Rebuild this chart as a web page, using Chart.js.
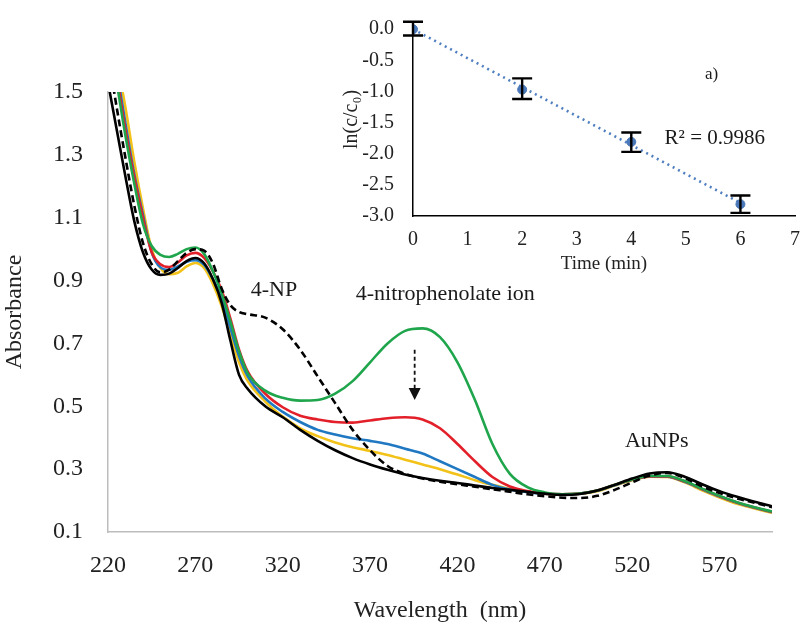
<!DOCTYPE html>
<html>
<head>
<meta charset="utf-8">
<script src="https://cdn.jsdelivr.net/npm/chart.js@4.4.1/dist/chart.umd.min.js"></script>
<style>
  html, body { margin: 0; padding: 0; background: #fff; }
  #wrap { position: relative; width: 806px; height: 630px; }
  #main { position: absolute; left: 0; top: 0; }
  #inset { position: absolute; left: 340px; top: 0; }
</style>
</head>
<body>
<div id="wrap">
  <canvas id="main" width="806" height="630"></canvas>
  <canvas id="inset" width="466" height="280"></canvas>
</div>
<script>
// --- Main spectra data ---
const wavelengths = [220, 225, 230, 235, 240, 245, 250, 255, 260, 265, 270, 275, 280, 285, 290, 295, 300,
  310, 320, 330, 340, 350, 360, 370, 380, 390, 400, 410, 420, 430, 440, 450, 460, 470, 480, 490, 500,
  510, 520, 530, 540, 550, 560, 570, 580, 590, 600];

const blackSolid = [1.53, 1.38, 1.23, 1.09, 0.99, 0.935, 0.918, 0.922, 0.94, 0.962, 0.972, 0.955, 0.905, 0.83, 0.71, 0.60, 0.555,
  0.50, 0.465, 0.425, 0.39, 0.36, 0.335, 0.315, 0.298, 0.283, 0.272, 0.263, 0.256, 0.248, 0.240, 0.234, 0.228, 0.222, 0.218, 0.221, 0.232,
  0.250, 0.270, 0.286, 0.290, 0.276, 0.252, 0.230, 0.212, 0.196, 0.182];

const np4Dashed = [1.62, 1.45, 1.29, 1.14, 1.02, 0.952, 0.926, 0.935, 0.962, 0.988, 1.0, 0.995, 0.955, 0.875, 0.822, 0.80, 0.793,
  0.782, 0.745, 0.68, 0.595, 0.51, 0.425, 0.36, 0.31, 0.285, 0.27, 0.26, 0.252, 0.244, 0.236, 0.228, 0.220, 0.214, 0.209, 0.208, 0.215,
  0.234, 0.258, 0.280, 0.288, 0.272, 0.245, 0.224, 0.207, 0.193, 0.179];

const green = [1.70, 1.53, 1.36, 1.21, 1.08, 1.01, 0.982, 0.975, 0.985, 1.0, 1.005, 0.985, 0.93, 0.86, 0.77, 0.675, 0.605,
  0.55, 0.527, 0.518, 0.52, 0.54, 0.58, 0.64, 0.70, 0.74, 0.748, 0.72, 0.64, 0.52, 0.38, 0.285, 0.243, 0.226, 0.220, 0.222, 0.232,
  0.250, 0.267, 0.278, 0.278, 0.262, 0.238, 0.215, 0.195, 0.179, 0.165];

const red = [1.72, 1.55, 1.38, 1.23, 1.10, 0.99, 0.952, 0.943, 0.958, 0.98, 0.988, 0.972, 0.93, 0.87, 0.78, 0.68, 0.61,
  0.54, 0.497, 0.47, 0.458, 0.45, 0.448, 0.455, 0.462, 0.465, 0.458, 0.43, 0.38, 0.325, 0.275, 0.245, 0.230, 0.222, 0.220, 0.222, 0.232,
  0.250, 0.266, 0.277, 0.277, 0.261, 0.237, 0.214, 0.194, 0.178, 0.164];

const blue = [1.74, 1.57, 1.40, 1.24, 1.11, 0.99, 0.942, 0.934, 0.945, 0.96, 0.965, 0.95, 0.905, 0.845, 0.75, 0.66, 0.595,
  0.525, 0.482, 0.45, 0.425, 0.41, 0.398, 0.39, 0.38, 0.365, 0.35, 0.325, 0.30, 0.275, 0.25, 0.235, 0.227, 0.222, 0.220, 0.222, 0.231,
  0.249, 0.266, 0.277, 0.276, 0.260, 0.236, 0.213, 0.193, 0.177, 0.163];

const yellow = [1.78, 1.60, 1.45, 1.28, 1.13, 1.0, 0.94, 0.92, 0.925, 0.945, 0.956, 0.94, 0.89, 0.82, 0.73, 0.64, 0.58,
  0.515, 0.467, 0.43, 0.405, 0.385, 0.37, 0.358, 0.345, 0.33, 0.315, 0.30, 0.283, 0.265, 0.25, 0.237, 0.228, 0.222, 0.220, 0.222, 0.230,
  0.248, 0.265, 0.276, 0.275, 0.258, 0.233, 0.210, 0.190, 0.175, 0.161];

const xTickValues = [220, 270, 320, 370, 420, 470, 520, 570];
const yTickValues = [0.1, 0.3, 0.5, 0.7, 0.9, 1.1, 1.3, 1.5];

// --- Inset (kinetics) data ---
const timeMin = [0, 2, 4, 6];
const lnRatio = [0.0, -0.97, -1.81, -2.81];
const errHigh = [0.12, -0.79, -1.66, -2.67];
const errLow = [-0.10, -1.12, -1.97, -2.95];
const trendX = [0, 6];
const trendY = [0.0, -2.79];
const insetXTicks = [0, 1, 2, 3, 4, 5, 6, 7];
const insetYTicks = [0.0, -0.5, -1.0, -1.5, -2.0, -2.5, -3.0];

const SERIF = "'Liberation Serif', 'Times New Roman', serif";

function pts(xs, ys) {
  return xs.map((x, i) => ({ x: x, y: ys[i] }));
}

function spectrum(label, values, color, dash) {
  return {
    label: label,
    data: pts(wavelengths, values),
    borderColor: color,
    borderWidth: 2.6,
    borderDash: dash || [],
    pointRadius: 0,
    cubicInterpolationMode: 'monotone',
    fill: false
  };
}

// annotations on the main chart, placed in data coordinates
const mainNotes = {
  id: 'mainNotes',
  afterDatasetsDraw(chart) {
    const { ctx, scales: { x, y } } = chart;
    ctx.save();
    ctx.fillStyle = '#1a1a1a';
    ctx.textAlign = 'center';
    ctx.textBaseline = 'middle';
    ctx.font = '22px ' + SERIF;
    ctx.fillText('4-NP', x.getPixelForValue(315), y.getPixelForValue(0.87));
    ctx.fillText('4-nitrophenolate ion', x.getPixelForValue(413), y.getPixelForValue(0.857));
    ctx.fillText('AuNPs', x.getPixelForValue(534), y.getPixelForValue(0.39));

    // dashed arrow pointing down at the 400 nm band
    const ax = x.getPixelForValue(395.5);
    const y0 = y.getPixelForValue(0.68);
    const y1 = y.getPixelForValue(0.52);
    ctx.strokeStyle = '#111';
    ctx.lineWidth = 1.8;
    ctx.setLineDash([4, 3]);
    ctx.beginPath();
    ctx.moveTo(ax, y0);
    ctx.lineTo(ax, y1 - 10);
    ctx.stroke();
    ctx.setLineDash([]);
    ctx.fillStyle = '#111';
    ctx.beginPath();
    ctx.moveTo(ax - 6, y1 - 12);
    ctx.lineTo(ax + 6, y1 - 12);
    ctx.lineTo(ax, y1);
    ctx.closePath();
    ctx.fill();
    ctx.restore();
  }
};

new Chart(document.getElementById('main'), {
  type: 'line',
  data: {
    datasets: [
      spectrum('0 min', blackSolid, '#000000'),
      spectrum('4-NP', np4Dashed, '#000000', [7, 4]),
      spectrum('4-nitrophenolate', green, '#1fa64c'),
      spectrum('2 min', red, '#e3202a'),
      spectrum('4 min', blue, '#1f78c1'),
      spectrum('6 min', yellow, '#f3c218')
    ]
  },
  options: {
    responsive: false,
    animation: false,
    layout: { padding: { left: 0, top: 92, right: 34, bottom: 0 } },
    plugins: { legend: { display: false }, tooltip: { enabled: false } },
    scales: {
      x: {
        type: 'linear',
        min: 220,
        max: 600,
        afterBuildTicks: (s) => { s.ticks = xTickValues.map(v => ({ value: v })); },
        afterFit: (s) => { s.height = 98; },
        grid: { display: false, drawTicks: true, tickLength: 7, color: '#bdbdbd' },
        border: { display: true, color: '#bdbdbd', width: 1.5 },
        ticks: { color: '#222', font: { family: SERIF, size: 24 }, padding: 12, maxRotation: 0 },
        title: { display: true, text: 'Wavelength  (nm)', color: '#222', font: { family: SERIF, size: 24 }, padding: { top: 0, bottom: 5 } }
      },
      y: {
        min: 0.1,
        max: 1.5,
        afterBuildTicks: (s) => { s.ticks = yTickValues.map(v => ({ value: v })); },
        afterFit: (s) => { s.width = 108; },
        grid: { display: false, drawTicks: true, tickLength: 7, color: '#bdbdbd' },
        border: { display: true, color: '#bdbdbd', width: 1.5 },
        ticks: { color: '#222', font: { family: SERIF, size: 24 }, padding: 18, callback: v => v.toFixed(1) },
        title: { display: true, text: 'Absorbance', color: '#222', font: { family: SERIF, size: 24 }, padding: { top: 0, bottom: 10 } }
      }
    }
  },
  plugins: [mainNotes]
});

// error bars + text labels on the inset
const insetExtras = {
  id: 'insetExtras',
  afterDatasetsDraw(chart) {
    const { ctx, scales: { x, y } } = chart;
    ctx.save();
    ctx.strokeStyle = '#000';
    ctx.lineWidth = 2.4;
    timeMin.forEach((t, i) => {
      const px = x.getPixelForValue(t);
      const top = y.getPixelForValue(errHigh[i]);
      const bot = y.getPixelForValue(errLow[i]);
      ctx.beginPath();
      ctx.moveTo(px, top); ctx.lineTo(px, bot);
      ctx.moveTo(px - 10, top); ctx.lineTo(px + 10, top);
      ctx.moveTo(px - 10, bot); ctx.lineTo(px + 10, bot);
      ctx.stroke();
    });
    ctx.fillStyle = '#1a1a1a';
    ctx.textAlign = 'center';
    ctx.textBaseline = 'middle';
    ctx.font = '21px ' + SERIF;
    ctx.fillText('R² = 0.9986', x.getPixelForValue(5.53), y.getPixelForValue(-1.76));
    ctx.font = '17px ' + SERIF;
    ctx.fillText('a)', x.getPixelForValue(5.47), y.getPixelForValue(-0.73));
    ctx.restore();
  }
};

new Chart(document.getElementById('inset'), {
  type: 'scatter',
  data: {
    datasets: [
      {
        label: 'ln(c/c0)',
        data: pts(timeMin, lnRatio),
        backgroundColor: '#4a78b8',
        borderColor: '#4a78b8',
        pointRadius: 4.5
      },
      {
        type: 'line',
        label: 'Linear fit',
        data: pts(trendX, trendY),
        borderColor: '#4f7fc0',
        borderWidth: 2.6,
        borderDash: [2, 4],
        pointRadius: 0,
        fill: false
      }
    ]
  },
  options: {
    responsive: false,
    animation: false,
    layout: { padding: { left: 0, top: 20, right: 3, bottom: 0 } },
    plugins: { legend: { display: false }, tooltip: { enabled: false } },
    scales: {
      x: {
        type: 'linear',
        min: 0,
        max: 7,
        afterBuildTicks: (s) => { s.ticks = insetXTicks.map(v => ({ value: v })); },
        afterFit: (s) => { s.height = 64; },
        grid: { display: false, drawTicks: true, tickLength: 6, color: '#000' },
        border: { display: true, color: '#000', width: 1.5 },
        ticks: { color: '#222', font: { family: SERIF, size: 20 }, padding: 6, maxRotation: 0 },
        title: { display: true, text: 'Time (min)', color: '#222', font: { family: SERIF, size: 19 }, padding: { top: 0, bottom: 5 } }
      },
      y: {
        min: -3.0,
        max: 0.1,
        afterBuildTicks: (s) => { s.ticks = insetYTicks.map(v => ({ value: v })); },
        afterFit: (s) => { s.width = 73; },
        grid: { display: false, drawTicks: true, tickLength: 8, color: '#000' },
        border: { display: true, color: '#000', width: 1.5 },
        ticks: { color: '#222', font: { family: SERIF, size: 20 }, padding: 11, callback: v => v.toFixed(1) },
        title: { display: true, text: 'ln(c/c₀)', color: '#222', font: { family: SERIF, size: 20 }, padding: { top: 0, bottom: 2 } }
      }
    }
  },
  plugins: [insetExtras]
});
</script>
</body>
</html>
